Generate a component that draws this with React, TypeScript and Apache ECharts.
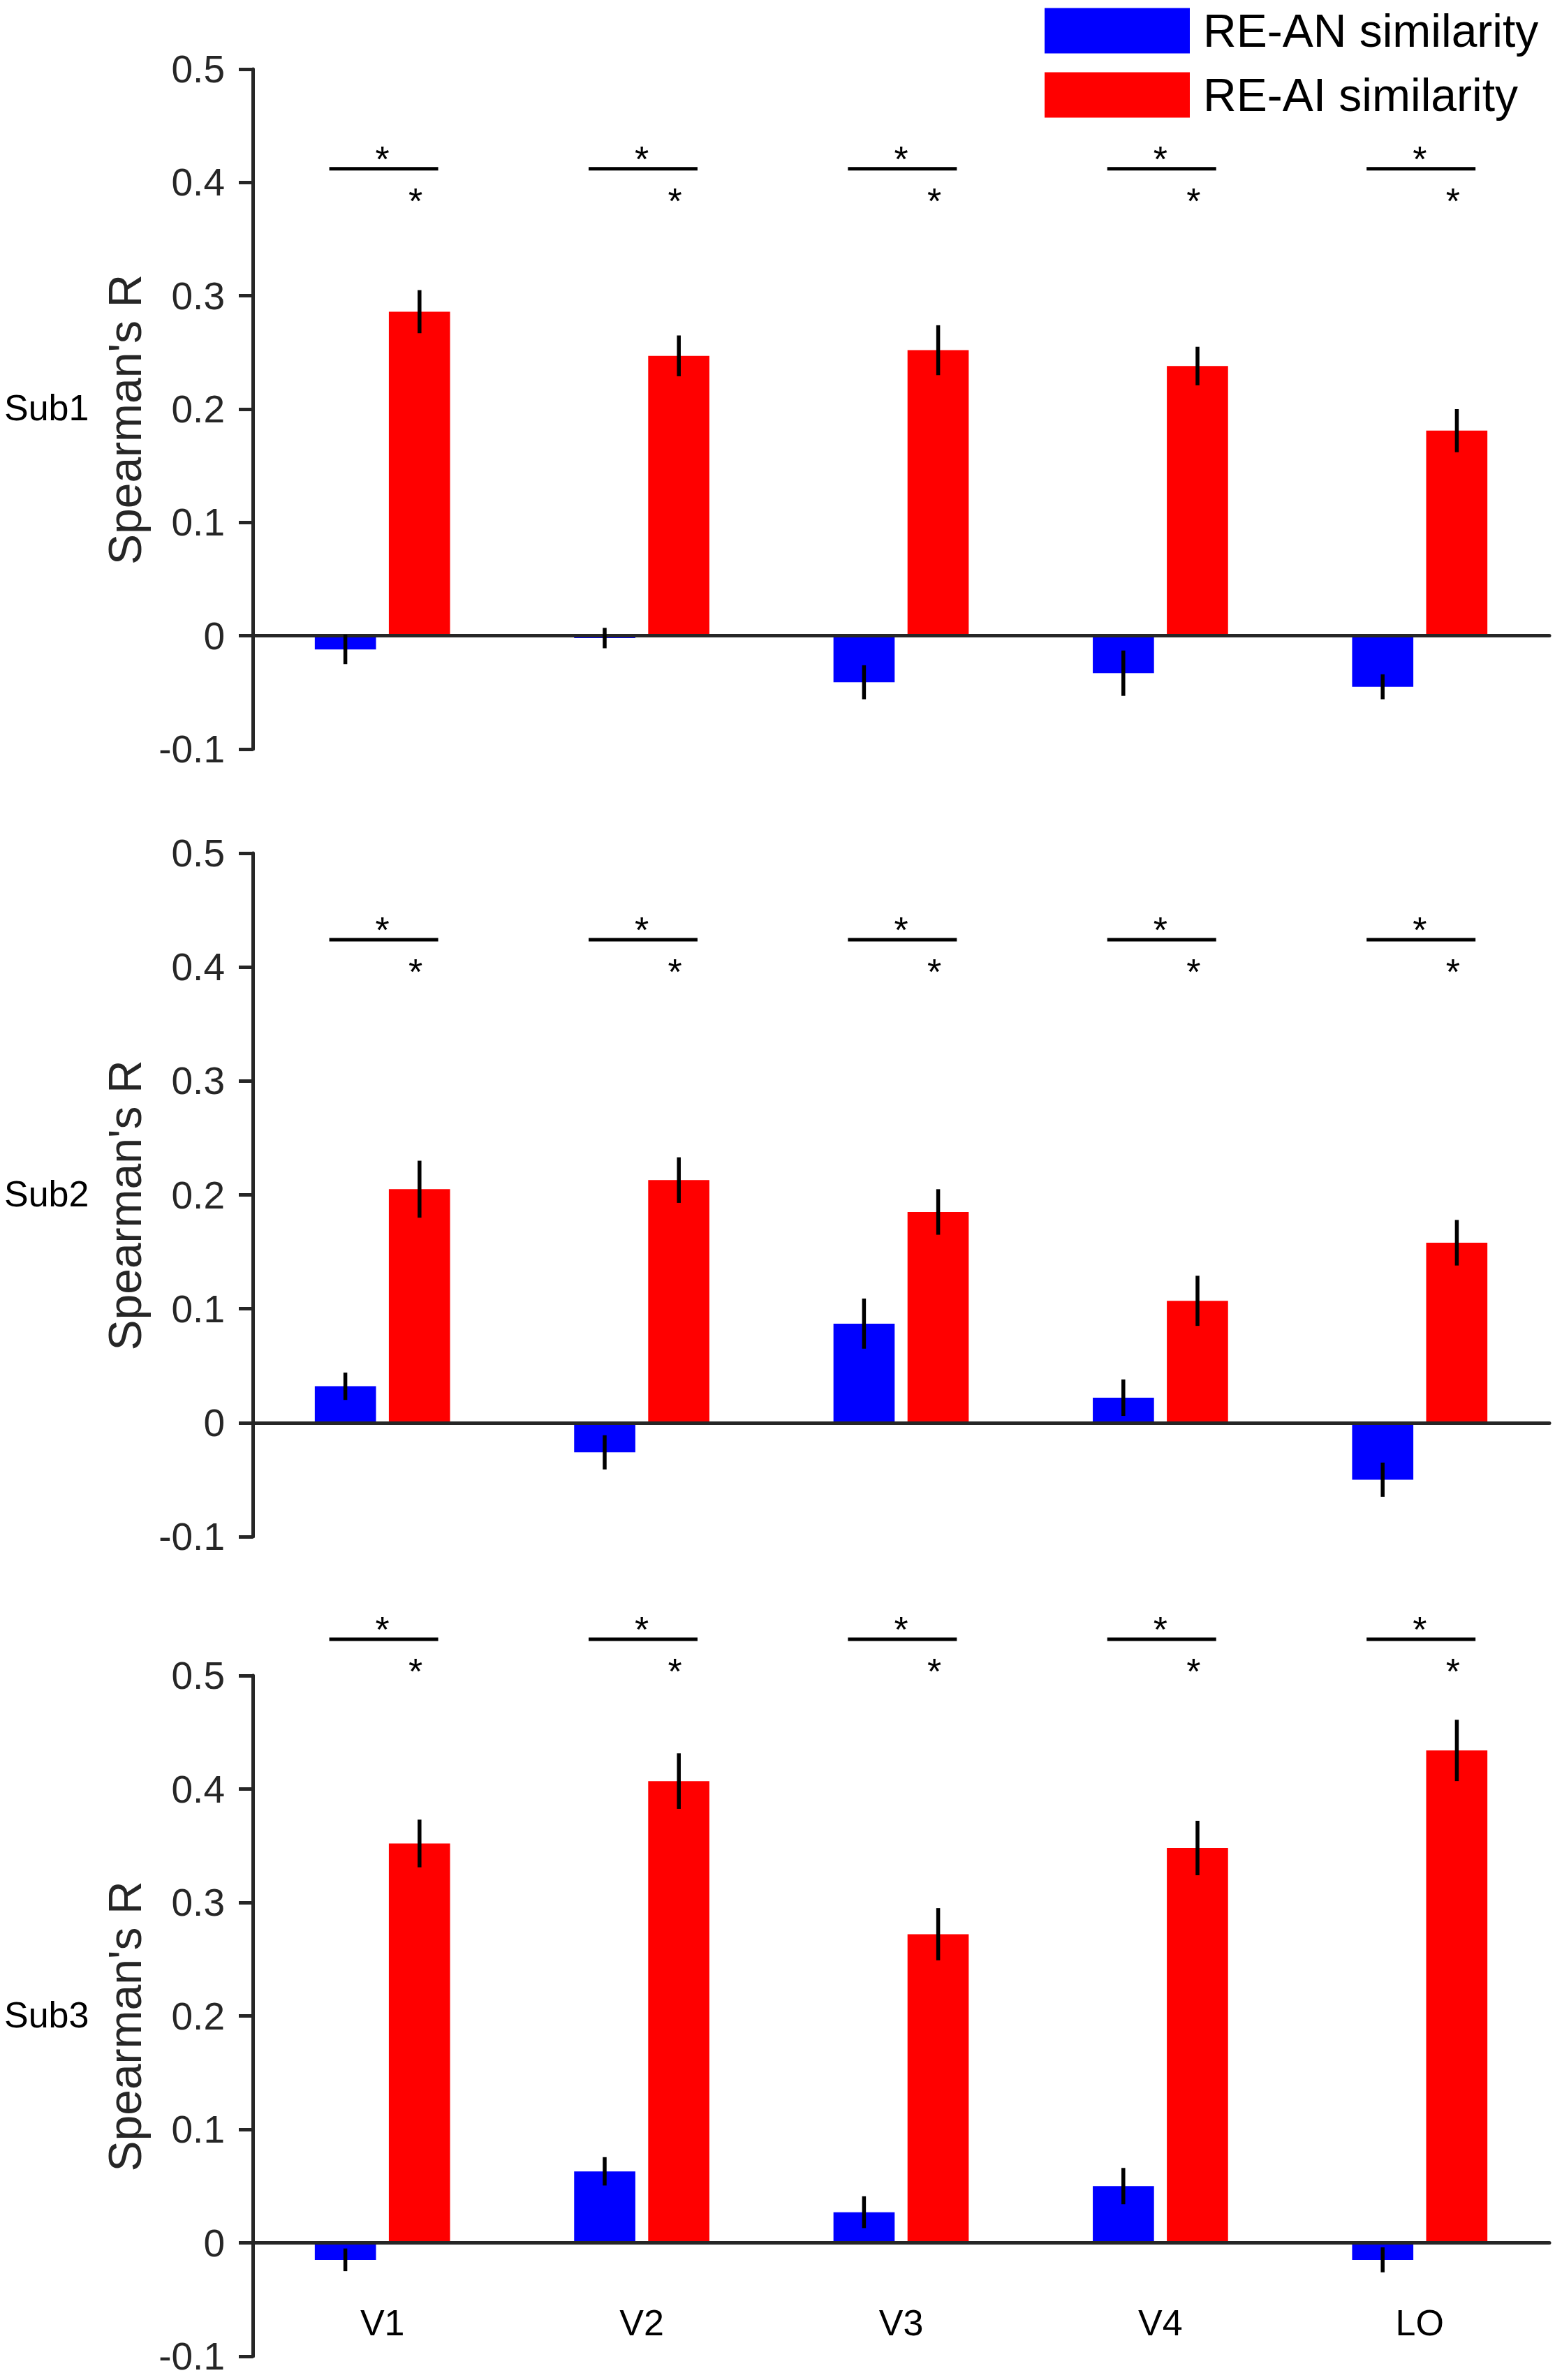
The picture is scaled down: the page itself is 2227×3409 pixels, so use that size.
import React, { useEffect, useRef } from "react";
import * as echarts from "echarts";

const categories = ["V1", "V2", "V3", "V4", "LO"];
const subjects = ["Sub1", "Sub2", "Sub3"];
const seriesNames = ["RE-AN similarity", "RE-AI similarity"];

// Sub1
const anMean1 = [-0.012, -0.002, -0.041, -0.033, -0.045];
const anSem1 = [0.013, 0.009, 0.015, 0.02, 0.011];
const aiMean1 = [0.286, 0.247, 0.252, 0.238, 0.181];
const aiSem1 = [0.019, 0.018, 0.022, 0.017, 0.019];
// Sub2
const anMean2 = [0.032, -0.026, 0.087, 0.022, -0.05];
const anSem2 = [0.012, 0.015, 0.022, 0.016, 0.015];
const aiMean2 = [0.205, 0.213, 0.185, 0.107, 0.158];
const aiSem2 = [0.025, 0.02, 0.02, 0.022, 0.02];
// Sub3
const anMean3 = [-0.015, 0.063, 0.027, 0.05, -0.015];
const anSem3 = [0.01, 0.0125, 0.014, 0.016, 0.011];
const aiMean3 = [0.352, 0.407, 0.272, 0.348, 0.434];
const aiSem3 = [0.021, 0.0245, 0.023, 0.024, 0.027];

// significance bar level per subject (axis value)
const sigLevel = [0.412, 0.424, 0.532];

const yTicksMin = -0.1;
const yTicksMax = 0.5;
const yTickStep = 0.1;

const FONT = '"Liberation Sans", Arial, Helvetica, sans-serif';
const AX = "#262626";
const BLUE = "#0000ff";
const RED = "#ff0000";

const gridTop = [99, 1222, 2400];
const gridH = [974, 979, 975];
const gridLeft = 362;
const gridRight = 8;

const panels = [
  { an: anMean1, anE: anSem1, ai: aiMean1, aiE: aiSem1 },
  { an: anMean2, anE: anSem2, ai: aiMean2, aiE: aiSem2 },
  { an: anMean3, anE: anSem3, ai: aiMean3, aiE: aiSem3 },
];

function errRender(offset: number) {
  return (params: any, api: any) => {
    const i = api.value(0);
    const m = api.value(1);
    const s = api.value(2);
    const top = api.coord([i, m + s]);
    const bot = api.coord([i, m - s]);
    const band = api.size([1, 0])[0];
    const x = top[0] + offset * band;
    return {
      type: "line",
      shape: { x1: x, y1: top[1], x2: x, y2: bot[1] },
      style: { stroke: "#000", lineWidth: 5.5 },
    };
  };
}

function sigRender(params: any, api: any) {
  const i = api.value(0);
  const v = api.value(1);
  const c = api.coord([i, v]);
  const band = api.size([1, 0])[0];
  const starStyle = {
    text: "*",
    fontSize: 52,
    fontFamily: FONT,
    fill: "#000",
    align: "center",
    verticalAlign: "middle",
  };
  return {
    type: "group",
    children: [
      {
        type: "line",
        shape: { x1: c[0] - 0.205 * band, y1: c[1], x2: c[0] + 0.215 * band, y2: c[1] },
        style: { stroke: "#000", lineWidth: 5 },
      },
      { type: "text", x: c[0] + 0.0 * band, y: c[1] - 25 + 11, style: starStyle },
      { type: "text", x: c[0] + 0.128 * band, y: c[1] + 35 + 11, style: starStyle },
    ],
  };
}

export default function App() {
  const ref = useRef<HTMLDivElement>(null);
  useEffect(() => {
    if (!ref.current) return;
    const chart = echarts.init(ref.current, null, { renderer: "svg" });

    const grids: any[] = [];
    const xAxes: any[] = [];
    const yAxes: any[] = [];
    const series: any[] = [];
    const graphics: any[] = [];

    panels.forEach((p, k) => {
      grids.push({
        left: gridLeft,
        right: gridRight,
        top: gridTop[k],
        height: gridH[k],
        containLabel: false,
        outerBoundsMode: "none",
      });
      xAxes.push({
        type: "category",
        gridIndex: k,
        data: categories,
        z: 3,
        axisLine: { show: true, onZero: true, lineStyle: { color: AX, width: 5 } },
        axisTick: { show: false },
        axisLabel: {
          show: k === 2,
          fontSize: 52,
          fontFamily: FONT,
          color: "#000",
          margin: -74,
        },
        splitLine: { show: false },
      });
      yAxes.push({
        type: "value",
        gridIndex: k,
        min: yTicksMin,
        max: yTicksMax,
        interval: yTickStep,
        axisLine: { show: true, lineStyle: { color: AX, width: 5 } },
        axisTick: { show: true, length: 20, lineStyle: { color: AX, width: 5 } },
        axisLabel: { fontSize: 55, lineHeight: 48, fontFamily: FONT, color: AX, margin: 40 },
        splitLine: { show: false },
        name: "Spearman's R",
        nameLocation: "middle",
        nameGap: 150,
        nameTextStyle: { fontSize: 66, fontFamily: FONT, color: AX, padding: [0, 30, 0, 0] },
      });
      series.push({
        type: "bar",
        name: seriesNames[0],
        xAxisIndex: k,
        yAxisIndex: k,
        data: p.an,
        barWidth: "23.6%",
        barGap: "21%",
        itemStyle: { color: BLUE },
      });
      series.push({
        type: "bar",
        name: seriesNames[1],
        xAxisIndex: k,
        yAxisIndex: k,
        data: p.ai,
        barWidth: "23.6%",
        barGap: "21%",
        itemStyle: { color: RED },
      });
      series.push({
        type: "custom",
        xAxisIndex: k,
        yAxisIndex: k,
        z: 5,
        clip: false,
        renderItem: errRender(-0.143),
        data: categories.map((_, i) => [i, p.an[i], p.anE[i]]),
      });
      series.push({
        type: "custom",
        xAxisIndex: k,
        yAxisIndex: k,
        z: 5,
        clip: false,
        renderItem: errRender(0.143),
        data: categories.map((_, i) => [i, p.ai[i], p.aiE[i]]),
      });
      series.push({
        type: "custom",
        xAxisIndex: k,
        yAxisIndex: k,
        z: 5,
        clip: false,
        renderItem: sigRender,
        data: categories.map((_, i) => [i, sigLevel[k]]),
      });
      graphics.push({
        type: "text",
        x: 6,
        y: gridTop[k] + gridH[k] / 2 - 2,
        style: {
          text: subjects[k],
          fontSize: 52,
          fontFamily: FONT,
          fill: "#000",
          verticalAlign: "middle",
        },
      });
    });

    chart.setOption({
      animation: false,
      backgroundColor: "#ffffff",
      grid: grids,
      xAxis: xAxes,
      yAxis: yAxes,
      series,
      graphic: graphics,
      legend: {
        orient: "vertical",
        left: 1491,
        top: 6,
        itemWidth: 208,
        itemHeight: 65,
        itemGap: 26,
        icon: "rect",
        selectedMode: false,
        data: seriesNames,
        textStyle: {
          fontSize: 66,
          fontFamily: FONT,
          color: "#000",
          lineHeight: 65,
          padding: [0, 0, 0, 14],
        },
      },
    });
    return () => chart.dispose();
  }, []);
  return (
    <div
      ref={ref}
      style={{ position: "absolute", left: 0, top: 0, width: 2227, height: 3409, background: "#fff" }}
    />
  );
}
